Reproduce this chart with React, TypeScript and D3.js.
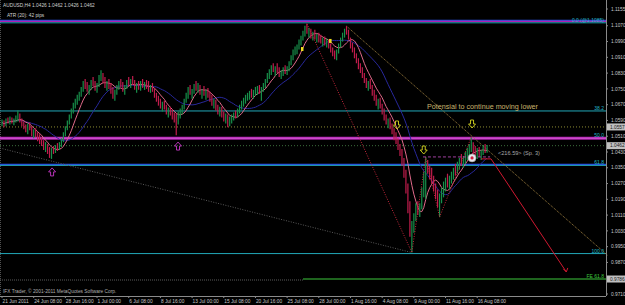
import React from "react";
import * as d3 from "d3";

// ---- OHLC data (H4 bars, AUDUSD) ----
const highs = [
  1.0595,1.0590,1.0600,1.0605,1.0610,1.0605,1.0600,1.0615,1.0640,1.0625,
  1.0600,1.0585,1.0570,1.0575,1.0580,1.0560,1.0545,1.0550,1.0530,1.0520,
  1.0505,1.0490,1.0480,1.0470,1.0455,1.0450,1.0460,1.0465,1.0475,1.0480,
  1.0500,1.0530,1.0560,1.0590,1.0620,1.0650,1.0680,1.0700,1.0720,1.0735,
  1.0760,1.0790,1.0800,1.0785,1.0770,1.0795,1.0810,1.0790,1.0780,1.0820,
  1.0845,1.0830,1.0810,1.0790,1.0800,1.0780,1.0760,1.0745,1.0770,1.0790,
  1.0800,1.0785,1.0770,1.0795,1.0810,1.0800,1.0815,1.0795,1.0780,1.0790,
  1.0790,1.0800,1.0785,1.0795,1.0790,1.0770,1.0780,1.0755,1.0730,1.0715,
  1.0700,1.0685,1.0690,1.0670,1.0655,1.0660,1.0645,1.0630,1.0625,1.0635,
  1.0650,1.0670,1.0700,1.0730,1.0760,1.0770,1.0750,1.0775,1.0790,1.0780,
  1.0770,1.0750,1.0765,1.0745,1.0755,1.0735,1.0720,1.0700,1.0695,1.0670,
  1.0660,1.0660,1.0635,1.0625,1.0620,1.0610,1.0620,1.0630,1.0640,1.0650,
  1.0670,1.0690,1.0705,1.0720,1.0730,1.0740,1.0750,1.0745,1.0760,1.0765,
  1.0770,1.0760,1.0780,1.0800,1.0830,1.0850,1.0870,1.0880,1.0865,1.0880,
  1.0860,1.0845,1.0860,1.0870,1.0865,1.0890,1.0920,1.0950,1.0965,1.0975,
  1.1000,1.1020,1.1045,1.1070,1.1080,1.1060,1.1055,1.1040,1.1050,1.1030,
  1.1035,1.1025,1.1010,1.1015,1.1005,1.1000,1.0980,1.0960,1.0945,1.0950,
  1.0980,1.1010,1.1035,1.1055,1.1068,1.1050,1.1010,1.0985,1.0960,1.0930,
  1.0905,1.0880,1.0860,1.0830,1.0805,1.0790,1.0800,1.0770,1.0745,1.0720,
  1.0700,1.0705,1.0675,1.0650,1.0620,1.0600,1.0605,1.0575,1.0550,1.0530,
  1.0500,1.0470,1.0445,1.0400,1.0340,1.0270,1.0180,1.0080,1.0120,1.0170,
  1.0180,1.0170,1.0250,1.0330,1.0405,1.0390,1.0360,1.0350,1.0310,1.0270,
  1.0240,1.0220,1.0250,1.0280,1.0300,1.0320,1.0310,1.0330,1.0350,1.0370,
  1.0380,1.0400,1.0420,1.0410,1.0430,1.0450,1.0470,1.0505,1.0480,1.0460,
  1.0450,1.0455,1.0440,1.0465,1.0470,1.0465
];
const lows = [
  1.0560,1.0555,1.0560,1.0575,1.0570,1.0575,1.0565,1.0580,1.0585,1.0580,
  1.0560,1.0545,1.0530,1.0520,1.0540,1.0510,1.0500,1.0505,1.0485,1.0470,
  1.0460,1.0440,1.0430,1.0420,1.0400,1.0395,1.0420,1.0425,1.0435,1.0440,
  1.0455,1.0480,1.0510,1.0540,1.0570,1.0600,1.0625,1.0650,1.0670,1.0690,
  1.0710,1.0735,1.0750,1.0735,1.0720,1.0745,1.0765,1.0740,1.0730,1.0760,
  1.0790,1.0780,1.0755,1.0740,1.0750,1.0725,1.0700,1.0690,1.0720,1.0745,
  1.0760,1.0735,1.0720,1.0750,1.0765,1.0755,1.0770,1.0745,1.0730,1.0745,
  1.0740,1.0755,1.0745,1.0750,1.0735,1.0730,1.0735,1.0705,1.0685,1.0665,
  1.0650,1.0635,1.0645,1.0620,1.0605,1.0615,1.0595,1.0580,1.0515,1.0570,
  1.0600,1.0620,1.0645,1.0680,1.0700,1.0720,1.0700,1.0725,1.0740,1.0730,
  1.0720,1.0700,1.0715,1.0695,1.0705,1.0685,1.0665,1.0650,1.0640,1.0620,
  1.0610,1.0605,1.0585,1.0575,1.0555,1.0560,1.0575,1.0590,1.0600,1.0605,
  1.0625,1.0645,1.0660,1.0675,1.0690,1.0695,1.0705,1.0700,1.0715,1.0720,
  1.0725,1.0690,1.0735,1.0755,1.0780,1.0800,1.0820,1.0835,1.0815,1.0830,
  1.0810,1.0800,1.0815,1.0825,1.0820,1.0840,1.0870,1.0895,1.0920,1.0925,
  1.0950,1.0970,1.0995,1.1015,1.1030,1.1010,1.1005,1.0995,1.1000,1.0985,
  1.0985,1.0980,1.0965,1.0970,1.0960,1.0955,1.0935,1.0915,1.0900,1.0895,
  1.0930,1.0960,1.0990,1.1010,1.1025,1.1000,1.0955,1.0935,1.0905,1.0880,
  1.0850,1.0830,1.0805,1.0780,1.0755,1.0740,1.0750,1.0715,1.0690,1.0665,
  1.0645,1.0650,1.0620,1.0590,1.0570,1.0550,1.0545,1.0520,1.0490,1.0470,
  1.0440,1.0410,1.0360,1.0300,1.0220,1.0120,1.0000,0.9920,1.0020,1.0080,
  1.0110,1.0100,1.0140,1.0200,1.0190,1.0320,1.0290,1.0270,1.0230,1.0190,
  1.0150,1.0100,1.0170,1.0200,1.0230,1.0250,1.0240,1.0270,1.0290,1.0310,
  1.0320,1.0340,1.0360,1.0350,1.0370,1.0390,1.0410,1.0430,1.0420,1.0400,
  1.0395,1.0405,1.0390,1.0415,1.0425,1.0426
];
const closes = [
  1.0580,1.0565,1.0590,1.0585,1.0600,1.0590,1.0595,1.0600,1.0610,1.0590,
  1.0570,1.0555,1.0540,1.0560,1.0550,1.0520,1.0530,1.0515,1.0495,1.0480,
  1.0470,1.0450,1.0460,1.0435,1.0420,1.0440,1.0430,1.0455,1.0445,1.0470,
  1.0490,1.0520,1.0550,1.0580,1.0610,1.0640,1.0665,1.0690,1.0700,1.0725,
  1.0750,1.0770,1.0760,1.0745,1.0760,1.0785,1.0775,1.0750,1.0770,1.0805,
  1.0810,1.0790,1.0765,1.0780,1.0760,1.0735,1.0715,1.0735,1.0760,1.0780,
  1.0770,1.0745,1.0760,1.0785,1.0775,1.0790,1.0780,1.0755,1.0770,1.0760,
  1.0775,1.0765,1.0770,1.0760,1.0745,1.0760,1.0740,1.0715,1.0695,1.0680,
  1.0660,1.0670,1.0655,1.0630,1.0640,1.0625,1.0610,1.0600,1.0580,1.0620,
  1.0640,1.0660,1.0690,1.0720,1.0745,1.0730,1.0740,1.0765,1.0750,1.0770,
  1.0730,1.0740,1.0725,1.0735,1.0715,1.0700,1.0680,1.0690,1.0650,1.0635,
  1.0645,1.0615,1.0600,1.0610,1.0575,1.0595,1.0610,1.0620,1.0615,1.0640,
  1.0660,1.0680,1.0695,1.0710,1.0720,1.0730,1.0715,1.0735,1.0745,1.0755,
  1.0740,1.0750,1.0770,1.0790,1.0820,1.0840,1.0860,1.0845,1.0855,1.0840,
  1.0825,1.0835,1.0850,1.0840,1.0855,1.0880,1.0910,1.0935,1.0945,1.0965,
  1.0990,1.1010,1.1030,1.1055,1.1040,1.1045,1.1020,1.1030,1.1010,1.1020,
  1.0995,1.0990,1.1000,1.0985,1.0995,1.0970,1.0950,1.0930,1.0920,1.0940,
  1.0970,1.1000,1.1025,1.1045,1.1035,1.1010,1.0965,1.0945,1.0920,1.0890,
  1.0865,1.0845,1.0815,1.0790,1.0770,1.0780,1.0760,1.0730,1.0705,1.0680,
  1.0690,1.0660,1.0635,1.0605,1.0580,1.0590,1.0560,1.0530,1.0510,1.0480,
  1.0455,1.0430,1.0380,1.0320,1.0250,1.0150,1.0040,1.0060,1.0100,1.0150,
  1.0130,1.0160,1.0230,1.0310,1.0370,1.0340,1.0300,1.0290,1.0250,1.0210,
  1.0180,1.0200,1.0230,1.0260,1.0280,1.0270,1.0300,1.0320,1.0340,1.0330,
  1.0370,1.0390,1.0380,1.0400,1.0420,1.0440,1.0460,1.0470,1.0440,1.0420,
  1.0435,1.0415,1.0430,1.0455,1.0440,1.0462
];
const firstOpen = 1.057;

// ---- axes ----
const timeLabels = [
  "21 Jun 2011","24 Jun 08:00","28 Jun 16:00","1 Jul 00:00","6 Jul 08:00","8 Jul 16:00",
  "13 Jul 00:00","15 Jul 08:00","20 Jul 16:00","25 Jul 08:00","28 Jul 00:00","1 Aug 16:00",
  "4 Aug 08:00","9 Aug 00:00","11 Aug 16:00","16 Aug 08:00"
];
const timeLabelBars = [0,16,32,48,64,80,96,112,128,144,160,176,192,208,224,240];
const priceTicks = [
  1.1155,1.1070,1.0990,1.0910,1.0830,1.0750,1.0670,1.0590,1.0510,1.0430,
  1.0350,1.0270,1.0190,1.0110,1.0030,0.9950,0.9870,0.9710
];

// ---- studies / objects ----
const fibHigh = 1.1085;
const fibLow = 0.9915;
const fibLevels = [0, 38.2, 50, 61.8, 100];
const fibLabels = ["0.0 (@1.1085)", "38.2", "50.0", "61.8", "100.0"];
const resistanceMagenta = [1.1092, 1.0500];
const supportBlue = [1.1097, 1.0367];
const levelAsk = 1.0557;
const levelBid = 1.0462;
const levelFE = 0.9786;
const levelFELabel = "FE 61.8";
const zigzag: [number, number][] = [[154,1.1080],[207,0.9920],[214,1.0405],[221,1.0100],[237,1.0505]];
const grayTrend: [number, number][] = [[-1,1.0450],[207,0.9920]];
const brownTrend: [number, number][] = [[174,1.1068],[306,0.9905]];
const redProjection: [number, number][] = [[242,1.0395],[247,1.0395],[285,0.9822]];
const dashedLevel: [number, number][] = [[212.6,1.0405],[246.5,1.0405]];
const downArrows: [number, number][] = [[199.5,1.0567],[237.4,1.0572],[213,1.0440]];
const upArrows: [number, number][] = [[25.3,1.0329],[88.9,1.0460]];
const yellowMarks: [number, number][] = [[165.7,1.0993],[151.5,1.0952]];
const circleMark: [number, number] = [237.4, 1.0400];
const noteText = "Potensial to continue moving lower";
const notePos: [number, number] = [214.6, 1.0648];
const pipText = "<216.59> (Sp. 3)";
const pipPos: [number, number] = [250.5, 1.0413];
const titleText = "AUDUSD,H4  1.0426 1.0462 1.0426 1.0462";
const atrText = "ATR (20):   42 pips";
const footerText = "IFX Trader, \u00a9 2001-2011 MetaQuotes Software Corp.";

const FONT = "'Liberation Sans', Arial, sans-serif";

export default function App() {
  const W = 625, H = 305;
  const plotRight = 606;
  const plotBottom = 296;
  const x = d3.scaleLinear().domain([0, 305]).range([2, 605.9]);
  const y = d3.scaleLinear().domain([0.971, 1.1155]).range([294, 9]);
  const opens = closes.map((c, i) => (i === 0 ? firstOpen : closes[i - 1]));

  const sma = (n: number) =>
    closes.map((_, i) => d3.mean(closes.slice(Math.max(0, i - n + 1), i + 1)) as number);
  const maFast = sma(8);
  const maSlow = sma(21);
  const maLine = d3.line<number>().x((_, i) => x(i)).y((d) => y(d));
  const ptLine = d3.line<[number, number]>().x((d) => x(d[0])).y((d) => y(d[1]));

  const fibPrice = (lv: number) => fibHigh - (fibHigh - fibLow) * lv / 100;

  const downArrow = "M-1.5,-4 L1.5,-4 L1.5,0 L3.5,0 L0,4 L-3.5,0 L-1.5,0 Z";
  const upArrow = "M-1.5,4 L1.5,4 L1.5,0 L3.5,0 L0,-4 L-3.5,0 L-1.5,0 Z";

  const boxes = [levelAsk, levelBid, levelFE];

  return (
    <svg width={W} height={H} style={{ position: "absolute", left: 0, top: 0, background: "#000" }}
      fontFamily={FONT}>
      <rect x={0} y={0} width={W} height={H} fill="#000" />
      {/* left border */}
      <line x1={0.5} y1={0} x2={0.5} y2={plotBottom} stroke="#505050" strokeDasharray="1,1" />

      {/* horizontal levels */}
      <line x1={0} x2={plotRight} y1={y(levelAsk)} y2={y(levelAsk)} stroke="#8c8c32" strokeDasharray="1,2" />
      <line x1={0} x2={plotRight} y1={y(levelBid)} y2={y(levelBid)} stroke="#3c6e3c" strokeDasharray="1,2" />
      <line x1={0} x2={x(152)} y1={y(levelFE) + 1} y2={y(levelFE) + 1} stroke="#5a5a5a" strokeDasharray="1,1" />
      <line x1={x(152)} x2={plotRight} y1={y(levelFE)} y2={y(levelFE)} stroke="#3cc83c" strokeWidth={1.2} />

      {supportBlue.map((p, k) => (
        <line key={"sb" + k} x1={0} x2={plotRight} y1={y(p)} y2={y(p)} stroke="#2850e0" strokeWidth={1.3} />
      ))}
      {fibLevels.map((lv, k) => (
        <line key={"fib" + k} x1={0} x2={plotRight} y1={y(fibPrice(lv))} y2={y(fibPrice(lv))}
          stroke="#22a7b8" strokeWidth={1} />
      ))}
      {resistanceMagenta.map((p, k) => (
        <g key={"rm" + k}>
          <line x1={0} x2={plotRight} y1={y(p)} y2={y(p)} stroke="#b020b0" strokeWidth={k === 1 ? 3 : 1.2} />
          {k === 1 && <line x1={0} x2={plotRight} y1={y(p)} y2={y(p)} stroke="#e070e0" strokeWidth={0.8} />}
        </g>
      ))}

      {/* trend lines */}
      <path d={ptLine(grayTrend) || ""} stroke="#5a5a5a" fill="none" strokeDasharray="1,1.5" />
      <path d={ptLine(brownTrend) || ""} stroke="#a08040" fill="none" strokeDasharray="1,1" />

      {/* moving averages */}
      <path d={maLine(maSlow) || ""} stroke="#28289c" fill="none" strokeWidth={1} />
      <path d={maLine(maFast) || ""} stroke="#e06a8a" fill="none" strokeWidth={1} />

      {/* bars */}
      {highs.map((h, i) => (
        <line key={"b" + i} x1={x(i)} x2={x(i)} y1={y(h)} y2={y(lows[i])}
          stroke={closes[i] >= opens[i] ? "#17904a" : "#c01c4c"} strokeWidth={1.2} />
      ))}
      {yellowMarks.map((m, k) => (
        <rect key={"ym" + k} x={x(m[0]) - 1} y={y(m[1]) - 2} width={2.5} height={4} fill="#f0e020" />
      ))}

      {/* zigzag */}
      <path d={ptLine(zigzag) || ""} stroke="#c8283c" fill="none" strokeDasharray="1,1.5" />
      {/* projection */}
      <path d={ptLine(redProjection) || ""} stroke="#d01830" fill="none" strokeWidth={1} />
      <path d={`M${x(redProjection[2][0]) - 3},${y(redProjection[2][1]) - 3} L${x(redProjection[2][0])},${y(redProjection[2][1])} L${x(redProjection[2][0]) + 1.5},${y(redProjection[2][1]) - 4}`}
        stroke="#d01830" fill="none" />
      <path d={ptLine(dashedLevel) || ""} stroke="#a040a0" fill="none" strokeDasharray="3,2" />

      {/* circle mark */}
      <circle cx={x(circleMark[0])} cy={y(circleMark[1])} r={4} fill="#e8e8f0" stroke="#909090" strokeWidth={0.6} />
      <circle cx={x(circleMark[0])} cy={y(circleMark[1])} r={1.6} fill="#d02040" />

      {/* arrows */}
      {downArrows.map((a, k) => (
        <path key={"da" + k} d={downArrow} transform={`translate(${x(a[0])},${y(a[1])})`}
          fill="none" stroke="#d8d820" strokeWidth={0.9} />
      ))}
      {upArrows.map((a, k) => (
        <path key={"ua" + k} d={upArrow} transform={`translate(${x(a[0])},${y(a[1])})`}
          fill="none" stroke="#c838c8" strokeWidth={0.9} />
      ))}

      {/* texts */}
      <text x={x(notePos[0])} y={y(notePos[1])} fontSize={7.2} fill="#c8b46e">{noteText}</text>
      <text x={x(pipPos[0])} y={y(pipPos[1])} fontSize={5.6} fill="#a8a8a8">{pipText}</text>
      <text x={3} y={7} fontSize={4.8} fill="#d0d0d0">{titleText}</text>
      <text x={7} y={17} fontSize={4.8} fill="#d0d0d0">{atrText}</text>
      <text x={3} y={293} fontSize={4.8} fill="#b0b0b0">{footerText}</text>

      {/* fib labels */}
      {fibLevels.map((lv, k) => (
        <text key={"fl" + k} x={plotRight - 2} y={y(fibPrice(lv)) - 1} fontSize={5} fill="#22b8c8" textAnchor="end">
          {fibLabels[k]}
        </text>
      ))}
      <text x={plotRight - 2} y={y(levelFE) - 1} fontSize={5} fill="#3cc83c" textAnchor="end">{levelFELabel}</text>

      {/* axes */}
      <line x1={plotRight + 0.5} x2={plotRight + 0.5} y1={0} y2={plotBottom} stroke="#8a8a8a" />
      <line x1={0} x2={plotRight} y1={plotBottom + 0.5} y2={plotBottom + 0.5} stroke="#8a8a8a" />
      {priceTicks.map((p, k) => (
        <g key={"pt" + k}>
          <line x1={plotRight} x2={plotRight + 2} y1={y(p)} y2={y(p)} stroke="#8a8a8a" />
          <text x={611} y={y(p) + 1.7} fontSize={4.8} fill="#c8c8c8">{p.toFixed(4)}</text>
        </g>
      ))}
      {boxes.map((p, k) => (
        <g key={"bx" + k}>
          <rect x={607} y={y(p) - 3.5} width={18} height={7} fill="#c0c0c0" />
          <text x={610} y={y(p) + 1.7} fontSize={4.8} fill="#202020">{p.toFixed(4)}</text>
        </g>
      ))}
      {timeLabelBars.map((b, k) => (
        <g key={"tl" + k}>
          <line x1={x(b)} x2={x(b)} y1={plotBottom} y2={plotBottom + 2} stroke="#8a8a8a" />
          <text x={x(b) + 0.5} y={302.5} fontSize={4.8} fill="#c8c8c8">{timeLabels[k]}</text>
        </g>
      ))}
    </svg>
  );
}
